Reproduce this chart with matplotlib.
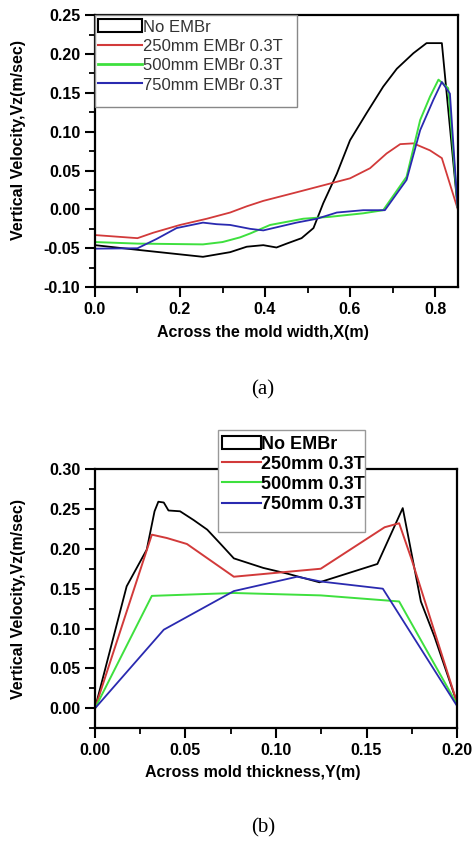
import matplotlib
matplotlib.use("Agg")
import matplotlib.pyplot as plt
from matplotlib.patches import Patch, Rectangle
from matplotlib.lines import Line2D
from matplotlib.ticker import MultipleLocator

plt.rcParams['font.family'] = ['Liberation Sans', 'DejaVu Sans']

# (a) across the mold width
xa_black = [0.0, 0.1, 0.254, 0.318, 0.357, 0.396, 0.427, 0.451, 0.486, 0.514, 0.537,
            0.569, 0.60, 0.639, 0.678, 0.71, 0.749, 0.78, 0.816, 0.853]
va_black = [-0.046, -0.052, -0.061, -0.055, -0.048, -0.046, -0.049, -0.044, -0.037, -0.024,
            0.008, 0.046, 0.089, 0.124, 0.158, 0.181, 0.201, 0.214, 0.214, 0.003]

xa_red = [0.0, 0.1, 0.137, 0.2, 0.263, 0.318, 0.357, 0.396, 0.474, 0.537, 0.60,
          0.647, 0.686, 0.718, 0.749, 0.788, 0.816, 0.853]
va_red = [-0.033, -0.037, -0.030, -0.020, -0.012, -0.004, 0.004, 0.011, 0.022,
          0.031, 0.040, 0.053, 0.072, 0.084, 0.085, 0.076, 0.066, 0.001]

xa_green = [0.0, 0.1, 0.254, 0.30, 0.341, 0.365, 0.412, 0.49, 0.553, 0.631, 0.678,
            0.733, 0.765, 0.788, 0.808, 0.831, 0.853]
va_green = [-0.042, -0.044, -0.045, -0.042, -0.036, -0.031, -0.020, -0.012, -0.0095,
            -0.005, -0.001, 0.042, 0.115, 0.145, 0.167, 0.156, 0.003]

xa_blue = [0.0, 0.1, 0.145, 0.192, 0.254, 0.286, 0.318, 0.365, 0.396, 0.435, 0.474,
           0.522, 0.569, 0.631, 0.682, 0.733, 0.765, 0.796, 0.816, 0.835, 0.853]
va_blue = [-0.0505, -0.05, -0.038, -0.024, -0.017, -0.019, -0.020, -0.025, -0.027, -0.022,
           -0.017, -0.012, -0.004, -0.001, -0.001, 0.038, 0.102, 0.141, 0.164, 0.149, 0.003]

# (b) across the mold thickness
yb_black = [0.0, 0.0175, 0.0286, 0.0329, 0.035, 0.038, 0.0406, 0.047, 0.0545, 0.062,
            0.069, 0.0767, 0.093, 0.106, 0.124, 0.156, 0.17, 0.18, 0.1875, 0.2]
vb_black = [0.0, 0.153, 0.199, 0.247, 0.259, 0.258, 0.248, 0.247, 0.236, 0.224,
            0.207, 0.188, 0.176, 0.169, 0.158, 0.181, 0.251, 0.134, 0.090, 0.007]

yb_red = [0.0, 0.0314, 0.0397, 0.0508, 0.0767, 0.1247, 0.16, 0.168, 0.175, 0.2]
vb_red = [0.0, 0.2177, 0.2135, 0.206, 0.165, 0.175, 0.227, 0.232, 0.186, 0.007]

yb_green = [0.0, 0.0314, 0.0767, 0.1247, 0.168, 0.2]
vb_green = [0.0, 0.141, 0.1446, 0.1416, 0.134, 0.005]

yb_blue = [0.0, 0.038, 0.0767, 0.1117, 0.1247, 0.159, 0.2]
vb_blue = [0.0, 0.0986, 0.147, 0.165, 0.159, 0.150, 0.003]

RED = '#d23a3a'
GREEN = '#3ee03e'
BLUE = '#2a2ab0'

W, H = 473, 842
fig = plt.figure(figsize=(4.73, 8.42), dpi=100)

ax1 = fig.add_axes([0.2008, 0.659, 0.7675, 0.323])
ax2 = fig.add_axes([0.2008, 0.135, 0.7655, 0.308])


def style_axis(ax):
    for s in ax.spines.values():
        s.set_linewidth(1.6)
    ax.tick_params(which='major', direction='out', length=7, width=1.5,
                   labelsize=11.5)
    ax.tick_params(which='minor', direction='out', length=4, width=1.3)
    for lbl in ax.get_xticklabels() + ax.get_yticklabels():
        lbl.set_fontweight('bold')


# top chart
ax1.plot(xa_black, va_black, color='black', lw=1.3)
ax1.plot(xa_red, va_red, color=RED, lw=1.3)
ax1.plot(xa_green, va_green, color=GREEN, lw=1.4)
ax1.plot(xa_blue, va_blue, color=BLUE, lw=1.3)
ax1.set_xlim(0, 0.854)
ax1.set_ylim(-0.10, 0.25)
ax1.xaxis.set_major_locator(MultipleLocator(0.2))
ax1.xaxis.set_minor_locator(MultipleLocator(0.1))
ax1.yaxis.set_major_locator(MultipleLocator(0.05))
ax1.yaxis.set_minor_locator(MultipleLocator(0.025))
ax1.xaxis.set_major_formatter(plt.FormatStrFormatter('%.1f'))
ax1.yaxis.set_major_formatter(plt.FormatStrFormatter('%.2f'))
style_axis(ax1)
ax1.set_xlabel('Across the mold width,X(m)', fontsize=11.5, fontweight='bold')
ax1.set_ylabel('Vertical Velocity,Vz(m/sec)', fontsize=11.5, fontweight='bold')
ax1.xaxis.set_label_coords(0.463, -0.14)
ax1.yaxis.set_label_coords(-0.19, 0.54)

# legend frame drawn as a figure box (it has extra room at the bottom)
fig.patches.append(Rectangle((95 / W, 1 - 107 / H), 202 / W, 92 / H,
                             transform=fig.transFigure, facecolor='white',
                             edgecolor='#888888', lw=1.0, zorder=3))
handles1 = [Patch(facecolor='white', edgecolor='black', lw=1.5),
            Line2D([], [], color=RED, lw=1.5),
            Line2D([], [], color=GREEN, lw=2),
            Line2D([], [], color=BLUE, lw=1.5)]
labels1 = ['No EMBr', '250mm EMBr 0.3T', '500mm EMBr 0.3T', '750mm EMBr 0.3T']
leg1 = fig.legend(handles1, labels1, loc='upper left',
                  bbox_to_anchor=(95 / W, 1 - 16 / H), fontsize=12,
                  frameon=False, handlelength=2.6, handleheight=0.8,
                  handletextpad=0.1, labelspacing=0.25, borderpad=0.2,
                  borderaxespad=0)
leg1.set_zorder(4)
for t in leg1.get_texts():
    t.set_color('#333333')

# bottom chart
ax2.plot(yb_black, vb_black, color='black', lw=1.3)
ax2.plot(yb_red, vb_red, color=RED, lw=1.4)
ax2.plot(yb_green, vb_green, color=GREEN, lw=1.4)
ax2.plot(yb_blue, vb_blue, color=BLUE, lw=1.3)
ax2.set_xlim(0, 0.2)
ax2.set_ylim(-0.025, 0.30)
ax2.xaxis.set_major_locator(MultipleLocator(0.05))
ax2.xaxis.set_minor_locator(MultipleLocator(0.025))
ax2.yaxis.set_major_locator(MultipleLocator(0.05))
ax2.yaxis.set_minor_locator(MultipleLocator(0.025))
ax2.set_yticks([0, 0.05, 0.10, 0.15, 0.20, 0.25, 0.30])
ax2.xaxis.set_major_formatter(plt.FormatStrFormatter('%.2f'))
ax2.yaxis.set_major_formatter(plt.FormatStrFormatter('%.2f'))
style_axis(ax2)
ax2.set_xlabel('Across mold thickness,Y(m)', fontsize=11.5, fontweight='bold')
ax2.set_ylabel('Vertical Velocity,Vz(m/sec)', fontsize=11.5, fontweight='bold')
ax2.xaxis.set_label_coords(0.436, -0.14)
ax2.yaxis.set_label_coords(-0.19, 0.5)

fig.patches.append(Rectangle((218 / W, 1 - 532 / H), 147 / W, 102 / H,
                             transform=fig.transFigure, facecolor='white',
                             edgecolor='#999999', lw=1.0, zorder=3))
handles2 = [Patch(facecolor='white', edgecolor='black', lw=1.5),
            Line2D([], [], color=RED, lw=1.5),
            Line2D([], [], color=GREEN, lw=1.5),
            Line2D([], [], color=BLUE, lw=1.5)]
labels2 = ['No EMBr', '250mm 0.3T', '500mm 0.3T', '750mm 0.3T']
leg2 = fig.legend(handles2, labels2, loc='upper left',
                  bbox_to_anchor=(218 / W, 1 - 432 / H),
                  prop={'size': 13, 'weight': 'bold'},
                  frameon=False, handlelength=2.2, handleheight=0.7,
                  handletextpad=0.0, labelspacing=0.17, borderpad=0.2,
                  borderaxespad=0)
leg2.set_zorder(4)

fig.text(263 / W, 1 - 390 / H, '(a)', ha='center', va='center',
         fontsize=15, family='Liberation Serif')
fig.text(263 / W, 1 - 828 / H, '(b)', ha='center', va='center',
         fontsize=15, family='Liberation Serif')

fig.savefig('out.png', dpi=100)
